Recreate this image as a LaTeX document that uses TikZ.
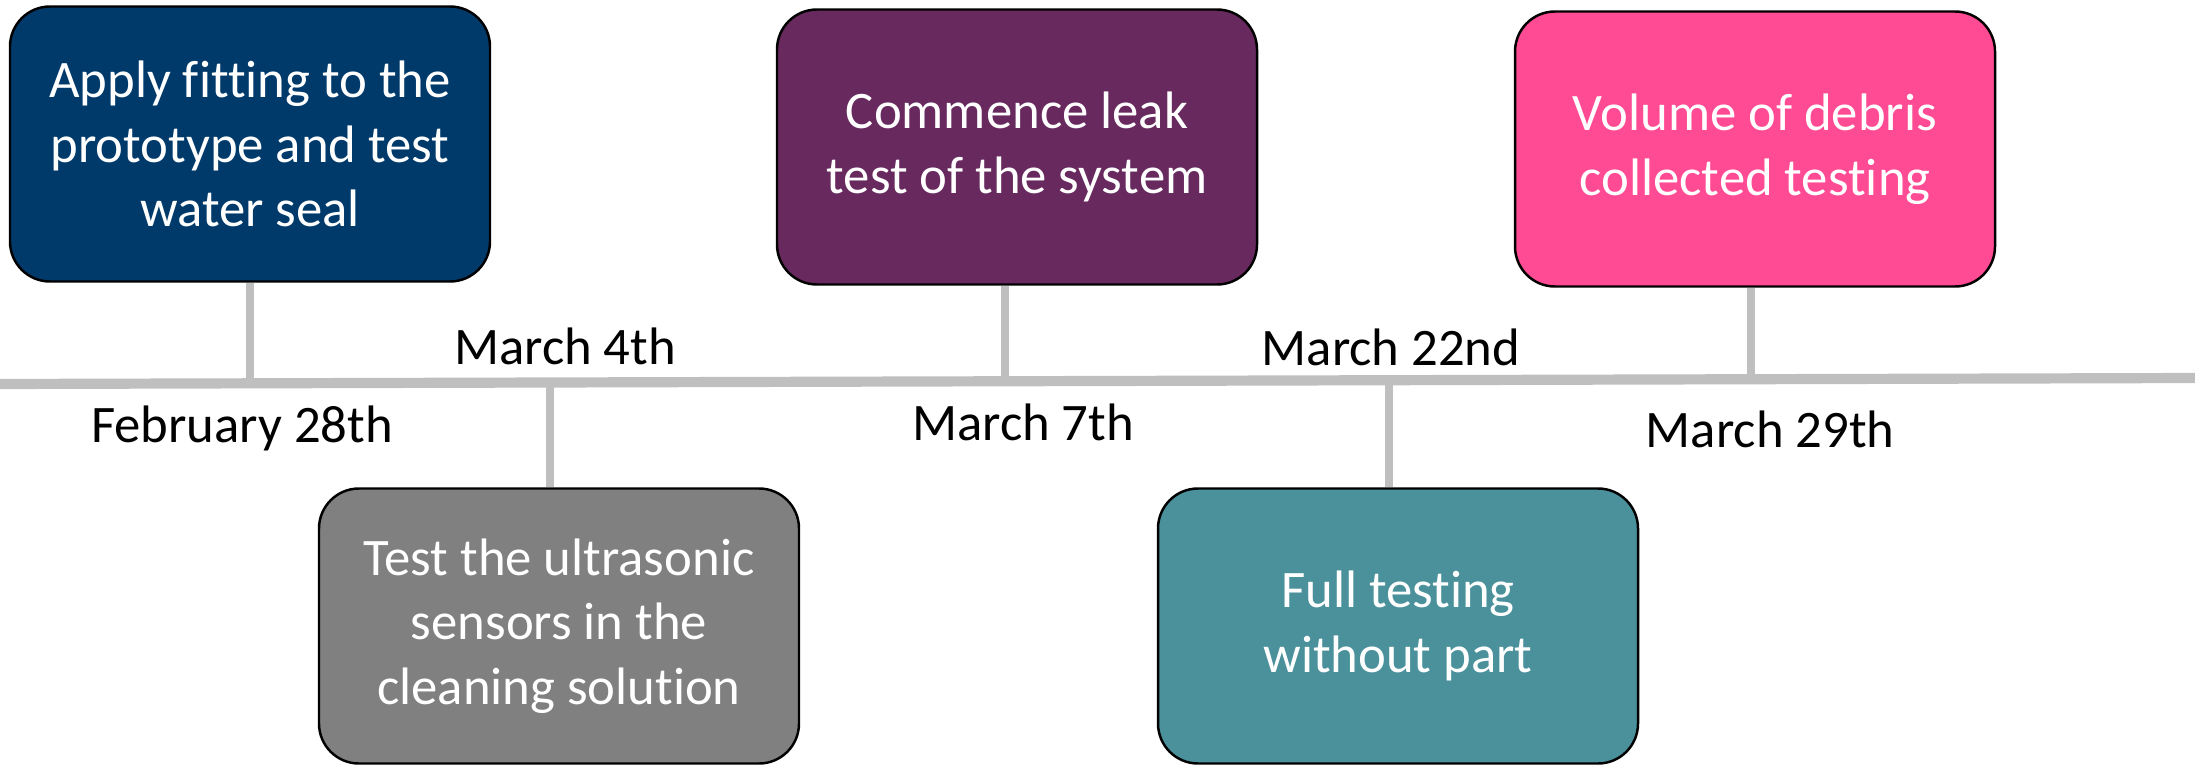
\documentclass[tikz,border=0pt]{standalone}
\usepackage{fontspec}
\setmainfont{Carlito}[Ligatures=NoCommon]
\usetikzlibrary{positioning}

\definecolor{navy}{RGB}{0,58,107}
\definecolor{plum}{RGB}{103,41,94}
\definecolor{slate}{RGB}{128,128,128}
\definecolor{teal}{RGB}{74,145,155}
\definecolor{rose}{RGB}{255,74,148}
\definecolor{linegray}{RGB}{191,191,191}

\begin{document}
\begin{tikzpicture}[
    task/.style={draw=black, line width=0.7pt, rounded corners=0.4cm, minimum width=4.8cm, minimum height=2.75cm, align=center, text=white, font=\fontsize{15}{18.4}\selectfont},
    date/.style={anchor=base, font=\fontsize{15}{18}\selectfont},
    stem/.style={draw=linegray, line width=2.3pt},
    timeline/.style={draw=linegray, line width=2.9pt}
]
\useasboundingbox (0,0) rectangle (21.95,-7.65);

% Timeline
\coordinate (start) at (0,-3.84);
\coordinate (end) at (21.95,-3.78);
\draw[timeline] (start) -- (end);

% Points on the timeline
\coordinate (t1) at (2.50,-3.84);
\coordinate (t2) at (5.50,-3.83);
\coordinate (t3) at (10.05,-3.82);
\coordinate (t4) at (13.89,-3.80);
\coordinate (t5) at (17.51,-3.79);

% Tasks above
\node[task, fill=navy] (fitting) at (2.50,-1.44) {Apply fitting to the\\prototype and test\\water seal};
\node[task, fill=plum] (leak) at (10.17,-1.47) {Commence leak\\test of the system};
\node[task, fill=rose] (debris) at (17.55,-1.49) {Volume of debris\\collected testing};

% Tasks below
\node[task, fill=slate] (sensors) at (5.59,-6.26) {Test the ultrasonic\\sensors in the\\cleaning solution};
\node[task, fill=teal] (full) at (13.98,-6.26) {Full testing\\without part};

% Stems
\draw[stem] (t1 |- fitting.south) -- (t1);
\draw[stem] (t2) -- (t2 |- sensors.north);
\draw[stem] (t3 |- leak.south) -- (t3);
\draw[stem] (t4) -- (t4 |- full.north);
\draw[stem] (t5 |- debris.south) -- (t5);

% Dates
\node[date] (feb28) at (2.42,-4.42) {February 28th};
\node[date] (mar4) at (5.65,-3.64) {March 4th};
\node[date] (mar7) at (10.23,-4.40) {March 7th};
\node[date] (mar22) at (13.91,-3.65) {March 22nd};
\node[date] (mar29) at (17.70,-4.47) {March 29th};

\end{tikzpicture}
\end{document}
